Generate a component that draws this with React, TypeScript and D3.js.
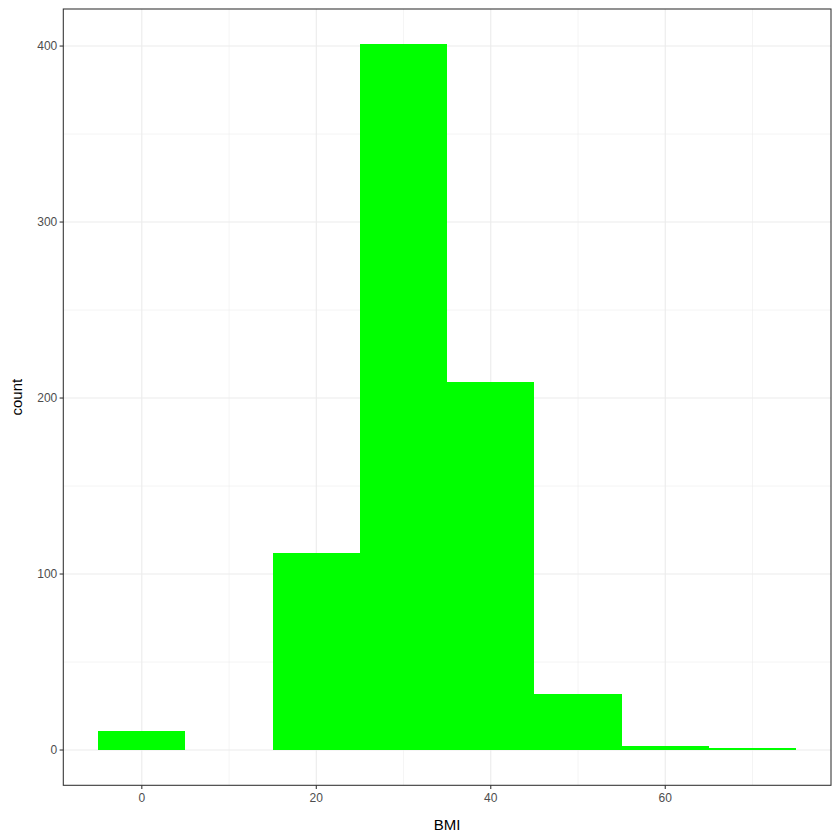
import React from 'react'
import * as d3 from 'd3'

// histogram bins (BMI, binwidth 10)
const binLo = [-5, 5, 15, 25, 35, 45, 55, 65]
const binHi = [5, 15, 25, 35, 45, 55, 65, 75]
const counts = [11, 0, 112, 401, 209, 32, 2, 1]
const xBreaks = [0, 20, 40, 60]
const xMinor = [10, 30, 50, 70]
const yBreaks = [0, 100, 200, 300, 400]
const yMinor = [50, 150, 250, 350]

const W = 840
const H = 840
const panel = { left: 63.3, right: 831, top: 9, bottom: 785.3 }
const font = 'Arial, "Liberation Sans", Helvetica, sans-serif'

export default function App() {
  const xMin = d3.min(binLo)!
  const xMax = d3.max(binHi)!
  const xPad = (xMax - xMin) * 0.05
  const yMax = d3.max(counts)!
  const yPad = yMax * 0.05

  const x = d3.scaleLinear().domain([xMin - xPad, xMax + xPad]).range([panel.left, panel.right])
  const y = d3.scaleLinear().domain([-yPad, yMax + yPad]).range([panel.bottom, panel.top])

  const grid = '#ebebeb'
  const dark = '#333333'
  const tickCol = '#4d4d4d'

  return (
    <div style={{ position: 'absolute', left: 0, top: 0 }}>
      <svg width={W} height={H} style={{ display: 'block', background: '#fff' }}>
        <rect x={0} y={0} width={W} height={H} fill="#fff" />
        {/* minor grid */}
        {xMinor.map((v) => (
          <line key={'xm' + v} x1={x(v)} x2={x(v)} y1={panel.top} y2={panel.bottom} stroke={grid} strokeWidth={0.55} />
        ))}
        {yMinor.map((v) => (
          <line key={'ym' + v} x1={panel.left} x2={panel.right} y1={y(v)} y2={y(v)} stroke={grid} strokeWidth={0.55} />
        ))}
        {/* major grid */}
        {xBreaks.map((v) => (
          <line key={'xg' + v} x1={x(v)} x2={x(v)} y1={panel.top} y2={panel.bottom} stroke={grid} strokeWidth={1.07} />
        ))}
        {yBreaks.map((v) => (
          <line key={'yg' + v} x1={panel.left} x2={panel.right} y1={y(v)} y2={y(v)} stroke={grid} strokeWidth={1.07} />
        ))}
        {/* bars */}
        {counts.map((c, i) =>
          c > 0 ? (
            <rect
              key={'b' + i}
              x={x(binLo[i])}
              width={x(binHi[i]) - x(binLo[i])}
              y={y(c)}
              height={y(0) - y(c)}
              fill="#00ff00"
              shapeRendering="crispEdges"
            />
          ) : null
        )}
        {/* panel border */}
        <rect
          x={panel.left}
          y={panel.top}
          width={panel.right - panel.left}
          height={panel.bottom - panel.top}
          fill="none"
          stroke={dark}
          strokeWidth={1.07}
        />
        {/* x ticks */}
        {xBreaks.map((v) => (
          <g key={'xt' + v}>
            <line x1={x(v)} x2={x(v)} y1={panel.bottom} y2={panel.bottom + 3.7} stroke={dark} strokeWidth={1.07} />
            <text x={x(v)} y={panel.bottom + 16.5} textAnchor="middle" fontFamily={font} fontSize={12} fill={tickCol}>
              {v}
            </text>
          </g>
        ))}
        {/* y ticks */}
        {yBreaks.map((v) => (
          <g key={'yt' + v}>
            <line x1={panel.left - 3.7} x2={panel.left} y1={y(v)} y2={y(v)} stroke={dark} strokeWidth={1.07} />
            <text x={panel.left - 6} y={y(v)} dy="0.36em" textAnchor="end" fontFamily={font} fontSize={12} fill={tickCol}>
              {v}
            </text>
          </g>
        ))}
        {/* axis titles */}
        <text x={(panel.left + panel.right) / 2} y={830} textAnchor="middle" fontFamily={font} fontSize={15} fill="#000">
          BMI
        </text>
        <text
          transform={`translate(22,${(panel.top + panel.bottom) / 2}) rotate(-90)`}
          textAnchor="middle"
          fontFamily={font}
          fontSize={15}
          fill="#000"
        >
          count
        </text>
      </svg>
    </div>
  )
}
